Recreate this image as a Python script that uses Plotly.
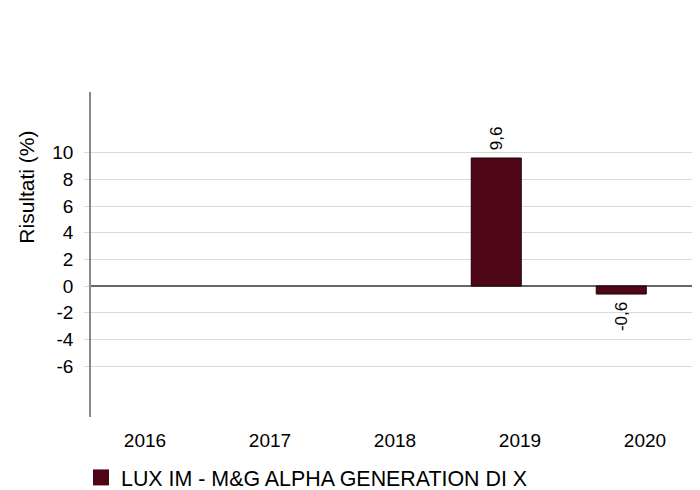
import plotly.graph_objects as go

categories = ["2016", "2017", "2018", "2019", "2020"]
values = [None, None, None, 9.6, -0.6]
series_name = "LUX IM - M&G ALPHA GENERATION DI X"
y_ticks = [-6, -4, -2, 0, 2, 4, 6, 8, 10]

bar_color = "#4f0718"
font_family = "Liberation Sans, Arial, sans-serif"

# value labels (comma decimal), padded away from the bar with a no-break space
labels = []
for v in values:
    if v is None:
        labels.append("")
    else:
        s = f"{v:.1f}".replace(".", ",")
        labels.append("\u00a0" + s if v >= 0 else s + "\u00a0")

# the page body has an 8px default margin, so margins are offset by 8px
fig = go.Figure()
fig.add_trace(go.Bar(
    x=categories, y=values, name=series_name,
    marker=dict(color=bar_color, line=dict(color="#1a0005", width=1)),
    offset=-0.39, width=0.4,
    text=labels, texttemplate="%{text}", textposition="outside", textangle=-90,
    textfont=dict(size=17, color="#000000", family=font_family),
    cliponaxis=False, showlegend=False,
))
fig.add_trace(go.Scatter(
    x=[None], y=[None], mode="markers", name=series_name,
    marker=dict(symbol="square", size=20, color=bar_color),
    showlegend=True,
))

plot_w = 617
plot_h = 326

fig.update_layout(
    width=700, height=490,
    margin=dict(l=83, r=0, t=84, b=80),
    paper_bgcolor="white", plot_bgcolor="white",
    font=dict(family=font_family, size=19, color="#000000"),
    showlegend=True,
    legend=dict(orientation="h", x=(78 - 91 + 3) / plot_w, xanchor="left",
                y=-(458 - 418) / plot_h, yanchor="top",
                font=dict(size=21.4), itemwidth=30, bgcolor="rgba(0,0,0,0)"),
    xaxis=dict(type="category", range=[-0.432, 4.504], showline=False, showgrid=False,
               zeroline=False, ticks="", tickfont=dict(size=19), ticklabelstandoff=10),
    yaxis=dict(range=[-9.82, 14.55], tickvals=y_ticks, ticktext=[str(v) for v in y_ticks],
               showgrid=True, gridcolor="#d9d9d9", gridwidth=1,
               zeroline=True, zerolinecolor="#666666", zerolinewidth=1.5,
               showline=True, linecolor="#888888", linewidth=1.5,
               ticks="outside", ticklen=5, tickcolor="#d9d9d9",
               tickfont=dict(size=19), ticklabelstandoff=7),
    annotations=[dict(text="Risultati (%)", textangle=-90, xref="paper", yref="paper",
                      x=(27 - 91) / plot_w, y=(418 - 188) / plot_h, showarrow=False,
                      xanchor="center", yanchor="middle", font=dict(size=21))],
)

fig.write_html("out.html")
